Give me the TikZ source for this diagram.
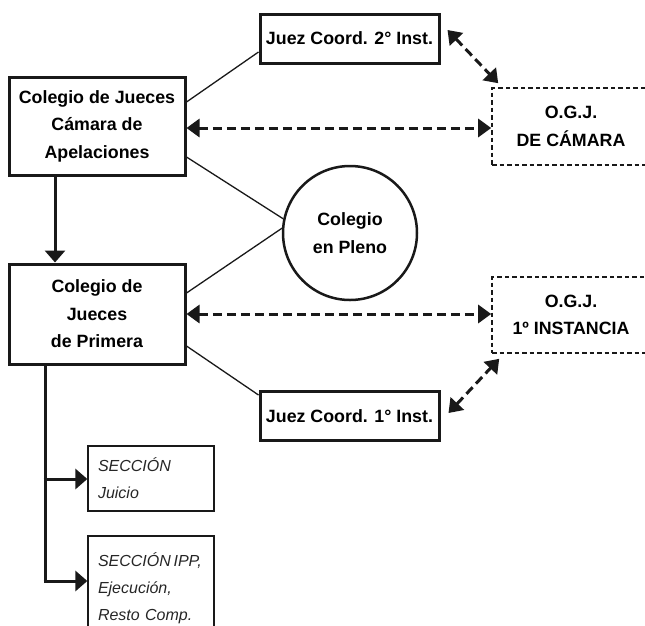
\documentclass[tikz,border=0pt]{standalone}
\usepackage{fontspec}
\setmainfont{Liberation Sans}
\usetikzlibrary{arrows.meta,calc}
\tikzset{
  solidbox/.style={draw=black!90, line width=3pt, align=center, inner sep=0pt,
    font=\bfseries\fontsize{17.8}{27.5}\selectfont},
  dashbox/.style={draw=black!90, line width=1.6pt, dash pattern=on 4.5pt off 3pt,
    align=center, inner sep=0pt, font=\bfseries\fontsize{17.8}{27.5}\selectfont},
  secbox/.style={draw=black!90, line width=1.3pt, align=left, inner sep=0pt,
    font=\itshape\fontsize{16}{27}\selectfont, text=black!85},
  thin/.style={line width=1.3pt, draw=black!90},
  darrow/.style={line width=3pt, draw=black!90, dash pattern=on 9pt off 5pt,
    {Triangle[width=18pt,length=13pt]}-{Triangle[width=18pt,length=13pt]}},
  solarrow/.style={line width=3pt, draw=black!90, -{Triangle[width=20pt,length=12pt]}},
}
\begin{document}
\begin{tikzpicture}[x=1pt,y=-1pt]
\useasboundingbox (0,0) rectangle (645,625);
\clip (0,0) rectangle (645,625);
% nodes
\node[solidbox, minimum width=176pt, minimum height=98pt] (cam) at (97,126)
  {Colegio de Jueces\\Cámara de\\Apelaciones};
\node[solidbox, minimum width=179pt, minimum height=49pt] (j2) at (349.5,38.5)
  {Juez Coord. 2° Inst.};
\node[dashbox, minimum width=158pt, minimum height=77pt] (ogjc) at (571,126.5)
  {O.G.J.\\DE CÁMARA};
\node[draw=black!90, line width=2.5pt, circle, minimum size=134pt, inner sep=0pt, align=center,
  font=\bfseries\fontsize{17.8}{27.5}\selectfont] (circ) at (350,233)
  {Colegio\\en Pleno};
\node[solidbox, minimum width=176pt, minimum height=100pt] (prim) at (97,314)
  {Colegio de\\Jueces\\de Primera};
\node[dashbox, minimum width=158pt, minimum height=76pt] (ogj1) at (571,315)
  {O.G.J.\\1º INSTANCIA};
\node[solidbox, minimum width=179pt, minimum height=49pt] (j1) at (349.5,416)
  {Juez Coord. 1° Inst.};
\node[secbox, minimum width=126pt, minimum height=65pt, text width=106pt] (secj) at (151,478.5)
  {SECCIÓN\\Juicio};
\node[secbox, minimum width=126pt, minimum height=104pt, text width=106pt] (secipp) at (151,588)
  {SECCIÓN\,IPP,\\Ejecución,\\Resto Comp.\\[14pt]};
\coordinate (b1) at (45,479);
\coordinate (b2) at (45,581);
% thin lines
\draw[thin] ([yshift=24pt]cam.east) -- ([yshift=-13.5pt]j2.west);
\draw[thin] ([yshift=-31pt]cam.east) -- (circ.168);
\draw[thin] ([yshift=21pt]prim.east) -- (circ.176);
\draw[thin] ([yshift=-32pt]prim.east) -- ([yshift=21pt]j1.west);
% dashed arrows
\draw[darrow] ([yshift=-2pt]cam.east) -- ([yshift=-1.5pt]ogjc.west);
\draw[darrow] (prim.east) -- ([yshift=1pt]ogj1.west);
\draw[darrow] ([xshift=7pt,yshift=8.5pt]j2.east) -- ([xshift=7pt,yshift=4pt]ogjc.north west);
\draw[darrow] ([xshift=8pt,yshift=3pt]j1.east) -- ([xshift=8pt,yshift=-5pt]ogj1.south west);
% solid arrows
\draw[solarrow] ([xshift=-42pt]cam.south) -- ([xshift=-42pt]prim.north);
\draw[line width=3pt, draw=black!90] (prim.south -| b1) -- (b2);
\draw[solarrow] ([xshift=-1.5pt]b1) -- (b1 -| secj.west);
\draw[solarrow] ([xshift=-1.5pt]b2) -- (b2 -| secipp.west);
\end{tikzpicture}
\end{document}
